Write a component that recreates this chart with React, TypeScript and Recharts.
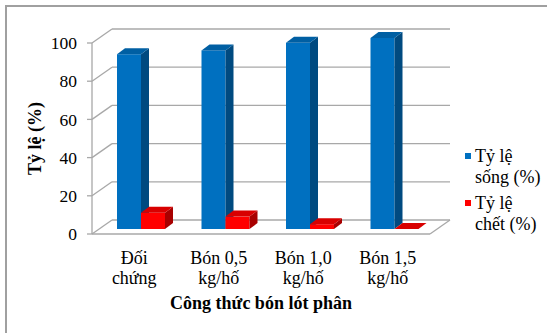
import React from 'react';
import { BarChart, Bar, XAxis, YAxis, CartesianGrid, Legend, ReferenceLine } from 'recharts';

// values
const categories = ['Đối chứng', 'Bón 0,5 kg/hố', 'Bón 1,0 kg/hố', 'Bón 1,5 kg/hố'];
const survivalRate = [91.5, 93.5, 97.5, 100];
const deathRate = [8.5, 6.5, 2.5, 0];
const yTicks = [0, 20, 40, 60, 80, 100];
const seriesNames = ['Tỷ lệ sống (%)', 'Tỷ lệ chết (%)'];

const data = categories.map((name, i) => ({
  name,
  song: survivalRate[i],
  chet: deathRate[i],
}));

const FONT = '"Liberation Serif", "Times New Roman", serif';
const GRID = '#a8a8a8';

// depth of the 3D box (front plane -> back wall)
const DX = 20;
const DY = -14;
// where bars sit inside that depth, and how deep they are
const BX = 7;
const BY = -5;
const BDX = 8;
const BDY = -6;

const make3DBar = (front: string, top: string, side: string) => (props: any) => {
  const { x, y, width: w, height: h } = props;
  if (x == null || y == null) return <g />;
  const fx = x + BX;
  const fy = y + BY;
  return (
    <g>
      <rect x={fx} y={fy} width={w} height={h} fill={front} />
      <polygon
        points={`${fx + w},${fy} ${fx + w + BDX},${fy + BDY} ${fx + w + BDX},${fy + h + BDY} ${fx + w},${fy + h}`}
        fill={side}
      />
      <polygon
        points={`${fx},${fy} ${fx + BDX},${fy + BDY} ${fx + w + BDX},${fy + BDY} ${fx + w},${fy}`}
        fill={top}
      />
    </g>
  );
};

const SongBar = make3DBar('#0070C0', '#005FA3', '#004A80');
const ChetBar = make3DBar('#FF0000', '#D80000', '#A80000');

// back wall line + side wall diagonal for every y tick
const backWallLine = (p: any) => (
  <g key={p.key ?? `bw-${p.index}`}>
    <line x1={p.x1} y1={p.y1} x2={p.x1 + DX} y2={p.y1 + DY} stroke={GRID} strokeWidth={1.3} />
    <line x1={p.x1 + DX} y1={p.y1 + DY} x2={p.x2 + DX} y2={p.y2 + DY} stroke={GRID} strokeWidth={1.3} />
  </g>
);

const floorEdge = (p: any) => (
  <line x1={p.x2} y1={p.y2} x2={p.x2 + DX} y2={p.y2 + DY} stroke={GRID} strokeWidth={1.3} />
);

const textStyle = { fontFamily: FONT, fontSize: 18, fill: '#000' };

const CategoryTick = ({ x, y, payload }: any) => {
  const words = String(payload.value).split(' ');
  const first = words.slice(0, -1).join(' ');
  const second = words[words.length - 1];
  return (
    <g>
      <text x={x} y={y + 30} textAnchor="middle" style={textStyle}>
        {first}
      </text>
      <text x={x} y={y + 50} textAnchor="middle" style={textStyle}>
        {second}
      </text>
    </g>
  );
};

const ValueTick = ({ x, y, payload }: any) => (
  <text x={x} y={y} dy="0.35em" textAnchor="end" style={{ ...textStyle, fontSize: 17.5 }}>
    {payload.value}
  </text>
);

const LegendContent = ({ payload }: any) => {
  const items = [...(payload || [])].sort(
    (a: any, b: any) => seriesNames.indexOf(a.value) - seriesNames.indexOf(b.value)
  );
  return (
    <div style={{ fontFamily: FONT, fontSize: 18, lineHeight: '21px', color: '#000' }}>
      {items.map((p: any, i: number) => {
        const words = String(p.value).split(' ');
        return (
          <div key={i} style={{ position: 'relative', paddingLeft: 10, marginBottom: 5 }}>
            <span
              style={{
                position: 'absolute',
                left: 0,
                top: 7,
                width: 6,
                height: 6,
                background: p.color,
              }}
            />
            <div>{words.slice(0, 2).join(' ')}</div>
            <div>{words.slice(2).join(' ')}</div>
          </div>
        );
      })}
    </div>
  );
};

export default function App() {
  return (
    <div style={{ position: 'absolute', left: 0, top: 0, width: 547, height: 333, background: '#fff' }}>
      <div
        style={{
          position: 'absolute',
          left: 5,
          top: 5,
          right: 0,
          bottom: 0,
          borderTop: '2px solid #a0a0a0',
          borderLeft: '2px solid #a0a0a0',
        }}
      />
      <BarChart
        width={547}
        height={333}
        data={data}
        margin={{ top: 43, right: 117, bottom: 24, left: 20 }}
        barSize={24}
        barGap={0}
        style={{ fontFamily: FONT }}
      >
        <CartesianGrid vertical={false} horizontal={backWallLine} />
        <XAxis
          dataKey="name"
          tickLine={false}
          tickSize={0}
          tickMargin={0}
          height={75}
          axisLine={{ stroke: GRID, strokeWidth: 1.3 }}
          tick={<CategoryTick />}
          interval={0}
          label={{
            value: 'Công thức bón lót phân',
            position: 'insideBottom',
            offset: 0,
            style: { fontWeight: 'bold', fontSize: 18, fontFamily: FONT, fill: '#000' },
          }}
        />
        <YAxis
          width={72}
          domain={[0, 100]}
          ticks={yTicks}
          tickSize={5}
          tickMargin={10}
          axisLine={{ stroke: GRID, strokeWidth: 1.3 }}
          tickLine={{ stroke: GRID, strokeWidth: 1.3 }}
          tick={<ValueTick />}
          label={{
            value: 'Tỷ lệ (%)',
            angle: -90,
            position: 'insideLeft',
            offset: 15,
            style: { textAnchor: 'middle', fontWeight: 'bold', fontSize: 18, fontFamily: FONT, fill: '#000' },
          }}
        />
        <ReferenceLine y={0} stroke={GRID} shape={floorEdge} />
        <Legend
          layout="horizontal"
          verticalAlign="middle"
          align="center"
          content={<LegendContent />}
          wrapperStyle={{ left: 465, top: 146, width: 82 }}
        />
        <Bar dataKey="song" name={seriesNames[0]} fill="#0070C0" shape={SongBar} isAnimationActive={false} />
        <Bar dataKey="chet" name={seriesNames[1]} fill="#FF0000" shape={ChetBar} isAnimationActive={false} />
      </BarChart>
    </div>
  );
}
